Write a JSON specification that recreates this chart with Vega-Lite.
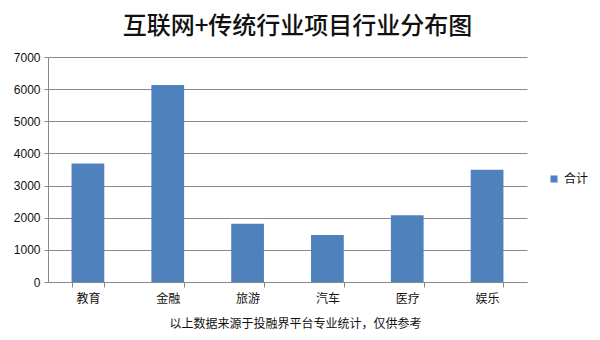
{
  "$schema": "https://vega.github.io/schema/vega-lite/v6.json",
  "autosize": {"type": "none"},
  "padding": {"left": 48, "top": 57, "right": 73, "bottom": 58},
  "width": 479,
  "height": 225,
  "background": "white",
  "title": {
    "text": "互联网+传统行业项目行业分布图",
    "font": "Noto Sans CJK SC",
    "fontSize": 24,
    "fontWeight": 500,
    "color": "#111111",
    "anchor": "middle",
    "dx": 10,
    "offset": 12
  },
  "data": {
    "values": [
      {"industry": "教育", "value": 3690, "series": "合计"},
      {"industry": "金融", "value": 6130, "series": "合计"},
      {"industry": "旅游", "value": 1810, "series": "合计"},
      {"industry": "汽车", "value": 1460, "series": "合计"},
      {"industry": "医疗", "value": 2080, "series": "合计"},
      {"industry": "娱乐", "value": 3490, "series": "合计"}
    ]
  },
  "mark": {"type": "bar", "color": "#4F81BD"},
  "encoding": {
    "x": {
      "field": "industry",
      "type": "nominal",
      "sort": null,
      "scale": {"paddingInner": 0.59, "paddingOuter": 0.295},
      "axis": {
        "title": "以上数据来源于投融界平台专业统计，仅供参考",
        "titleFont": "Noto Sans CJK SC",
        "titleFontSize": 12,
        "titleFontWeight": "normal",
        "titleColor": "#111111",
        "titlePadding": 14,
        "titleX": 247,
        "labelAngle": 0,
        "labelFont": "Noto Sans CJK SC",
        "labelFontSize": 12,
        "labelColor": "#111111",
        "labelPadding": 6,
        "tickBand": "extent",
        "tickSize": 5,
        "tickColor": "#888888",
        "domainColor": "#888888"
      }
    },
    "y": {
      "field": "value",
      "type": "quantitative",
      "scale": {"domain": [0, 7000]},
      "axis": {
        "title": null,
        "values": [0, 1000, 2000, 3000, 4000, 5000, 6000, 7000],
        "format": "d",
        "labelFont": "Liberation Sans",
        "labelFontSize": 12,
        "labelColor": "#111111",
        "labelPadding": 4,
        "tickSize": 4,
        "tickColor": "#888888",
        "domainColor": "#888888",
        "gridColor": "#888888",
        "gridOpacity": 1
      }
    },
    "fill": {
      "field": "series",
      "type": "nominal",
      "scale": {"range": ["#4F81BD"]},
      "legend": {
        "title": null,
        "orient": "none",
        "legendX": 500,
        "legendY": 116,
        "symbolType": "square",
        "symbolSize": 50,
        "symbolStrokeWidth": 0,
        "labelFont": "Noto Sans CJK SC",
        "labelFontSize": 12,
        "labelColor": "#111111"
      }
    }
  },
  "config": {"view": {"stroke": null}}
}
